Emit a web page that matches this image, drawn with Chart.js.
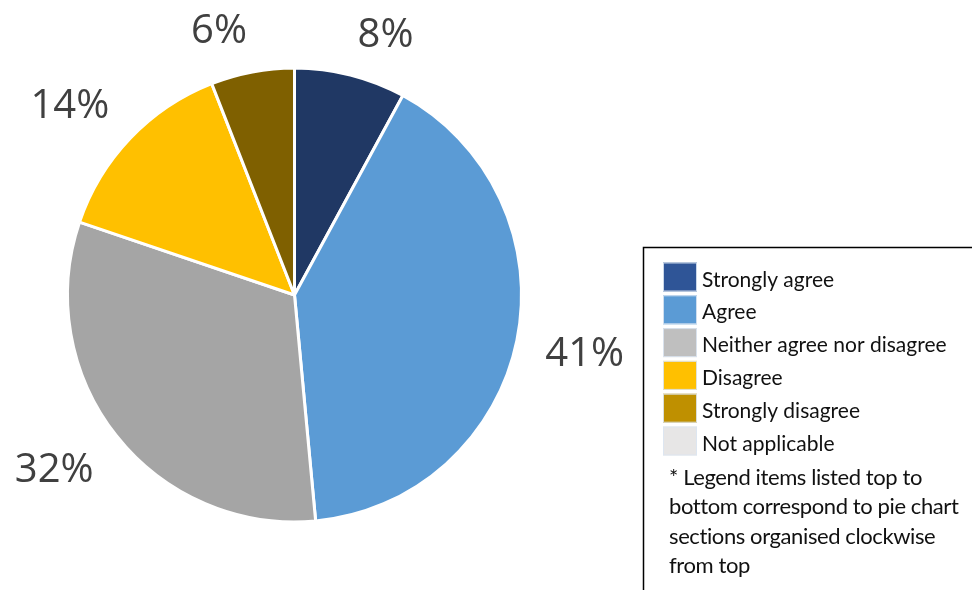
<!DOCTYPE html>
<html>
<head>
<meta charset="utf-8">
<script src="https://cdn.jsdelivr.net/npm/chart.js@4.4.1/dist/chart.umd.min.js"></script>
<style>
  html, body { margin: 0; padding: 0; background: #ffffff; overflow: hidden; }
  #wrap { width: 972px; height: 590px; position: relative; }
</style>
</head>
<body>
<div id="wrap"><canvas id="c" width="972" height="590"></canvas></div>
<script>
// Survey responses, listed clockwise from the top of the pie
const categories = ['Strongly agree', 'Agree', 'Neither agree nor disagree', 'Disagree', 'Strongly disagree', 'Not applicable'];
const shares = [8, 41, 32, 14, 6, 0];
const sliceColors = ['#203864', '#5B9BD5', '#A5A5A5', '#FFC000', '#7F6000', '#E7E6E6'];
const legendColors = ['#2F5597', '#5B9BD5', '#BFBFBF', '#FFC000', '#BF9000', '#E7E6E6'];
const footnoteLines = [
  '* Legend items listed top to',
  'bottom correspond to pie chart',
  'sections organised clockwise',
  'from top'
];

// Percentage labels placed just outside each slice, pushed away from the pie by their own extent
const outsideLabels = {
  id: 'outsideLabels',
  afterDatasetsDraw(chart) {
    const ctx = chart.ctx;
    const meta = chart.getDatasetMeta(0);
    const fontPx = 40;
    const capH = fontPx * 0.714;
    const gap = 29;
    ctx.save();
    ctx.font = fontPx + 'px "Open Sans"';
    ctx.fillStyle = '#404040';
    ctx.textAlign = 'center';
    ctx.textBaseline = 'alphabetic';
    meta.data.forEach((arc, i) => {
      const v = shares[i];
      if (!v) return;
      const p = arc.getProps(['x', 'y', 'startAngle', 'endAngle', 'outerRadius'], true);
      const mid = (p.startAngle + p.endAngle) / 2;
      const ux = Math.cos(mid), uy = Math.sin(mid);
      const r = p.outerRadius + gap;
      const text = v + '%';
      const hw = ctx.measureText(text).width / 2;
      const hh = capH / 2;
      const cx = p.x + r * ux + hw * Math.sign(ux);
      const cy = p.y + r * uy + hh * Math.max(-1, Math.min(1, uy * 2));
      ctx.fillText(text, cx, cy + capH / 2);
    });
    ctx.restore();
  }
};

// Boxed legend with swatches and an explanatory note
const boxedLegend = {
  id: 'boxedLegend',
  afterDraw(chart) {
    const ctx = chart.ctx;
    ctx.save();
    ctx.strokeStyle = '#000000';
    ctx.lineWidth = 1.5;
    ctx.strokeRect(643.5, 247.5, 420, 420);

    const rowTop = 262.5;
    const pitch = 32.8;
    ctx.font = '21px Lato';
    ctx.textBaseline = 'alphabetic';
    ctx.textAlign = 'left';
    chart.data.labels.forEach((label, i) => {
      const y = rowTop + i * pitch;
      ctx.fillStyle = legendColors[i];
      ctx.fillRect(663, y, 34, 29);
      ctx.strokeStyle = 'rgba(220,230,242,0.9)';
      ctx.lineWidth = 1;
      ctx.strokeRect(663.5, y + 0.5, 33, 28);
      ctx.fillStyle = '#111111';
      ctx.fillText(label, 702, y + 24);
    });

    ctx.font = '22px Lato';
    ctx.letterSpacing = '-0.4px';
    footnoteLines.forEach((line, j) => {
      ctx.fillText(line, 669, 485 + j * 29.3);
    });
    ctx.restore();
  }
};

new Chart(document.getElementById('c'), {
  type: 'pie',
  data: {
    labels: categories,
    datasets: [{
      data: shares,
      backgroundColor: sliceColors,
      borderColor: '#ffffff',
      borderWidth: 3
    }]
  },
  options: {
    responsive: false,
    animation: false,
    radius: 227,
    layout: { padding: { left: 0, right: 383, top: 0, bottom: 0 } },
    plugins: {
      legend: { display: false },
      tooltip: { enabled: false }
    }
  },
  plugins: [outsideLabels, boxedLegend]
});
</script>
</body>
</html>
